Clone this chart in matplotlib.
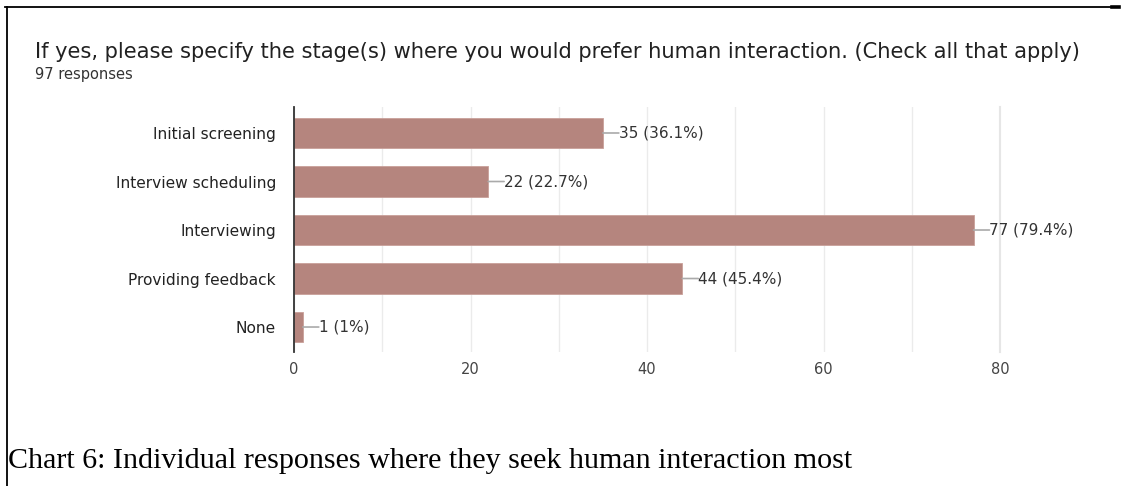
import matplotlib
matplotlib.use("Agg")
import matplotlib.pyplot as plt
from matplotlib.lines import Line2D

categories = ["Initial screening", "Interview scheduling", "Interviewing",
              "Providing feedback", "None"]
counts = [35, 22, 77, 44, 1]
percent_labels = ["36.1%", "22.7%", "79.4%", "45.4%", "1%"]
x_ticks = [0, 20, 40, 60, 80]

title = "If yes, please specify the stage(s) where you would prefer human interaction. (Check all that apply)"
subtitle = "97 responses"
caption = "Chart 6: Individual responses where they seek human interaction most"

SANS = "DejaVu Sans"
W, H = 1126, 486
fig = plt.figure(figsize=(W / 100, H / 100), dpi=100)
fig.patch.set_facecolor("white")

# page frame: top rule and left rule
fig.add_artist(Line2D([5 / W, 1112 / W], [1 - 7 / H, 1 - 7 / H], color="black", lw=1.3,
                      transform=fig.transFigure))
fig.add_artist(Line2D([1112 / W, 1119 / W], [1 - 7 / H, 1 - 7 / H], color="black", lw=2.6,
                      transform=fig.transFigure))
fig.add_artist(Line2D([6.5 / W, 6.5 / W], [1 - 7 / H, 0], color="black", lw=1.3,
                      transform=fig.transFigure))

ax = fig.add_axes([294 / W, 1 - 352 / H, (1000 - 294) / W, (352 - 107) / H])
ypos = list(range(len(categories)))
ax.barh(ypos, counts, height=0.62, color="#b5857e", edgecolor="#c9a09a", linewidth=0.6, zorder=3)

ax.set_xlim(0, 80)
ax.set_ylim(4.515, -0.536)
ax.set_yticks(ypos)
ax.set_yticklabels(categories, fontsize=11.1, color="#222222", family=SANS)
ax.set_xticks(x_ticks)
ax.set_xticklabels([str(t) for t in x_ticks], fontsize=10.5, color="#444444", family=SANS)
ax.set_xticks(range(0, 81, 10), minor=True)
ax.tick_params(axis="y", length=0, pad=13)
ax.tick_params(axis="x", length=0, pad=7, which="both")
ax.grid(axis="x", which="both", color="#ebebeb", lw=1, zorder=0)
for s in ["top", "bottom"]:
    ax.spines[s].set_visible(False)
ax.spines["right"].set_color("#e6e6e6")
ax.spines["right"].set_linewidth(1.5)
ax.spines["left"].set_color("#333333")
ax.spines["left"].set_linewidth(1.3)
ax.spines["left"].set_zorder(4)

for y, c, p in zip(ypos, counts, percent_labels):
    ax.annotate("", xy=(c, y), xytext=(11.5, 0), textcoords="offset points",
                arrowprops=dict(arrowstyle="-", color="#aaaaaa", lw=1.2, shrinkA=0, shrinkB=0))
    ax.annotate(f"{c} ({p})", xy=(c, y), xytext=(11.5, 0), textcoords="offset points",
                va="center", ha="left", fontsize=11, color="#333333", family=SANS)

fig.text(35 / W, 1 - 52 / H, title, fontsize=15.1, color="#212121", family=SANS,
         va="center", ha="left")
fig.text(35 / W, 1 - 75 / H, subtitle, fontsize=10.5, color="#333333", family=SANS,
         va="center", ha="left")
fig.text(8 / W, 1 - 461 / H, caption, fontsize=21.6, color="black", family="Liberation Serif",
         va="center", ha="left")

fig.savefig("out.png", dpi=100, facecolor="white")
